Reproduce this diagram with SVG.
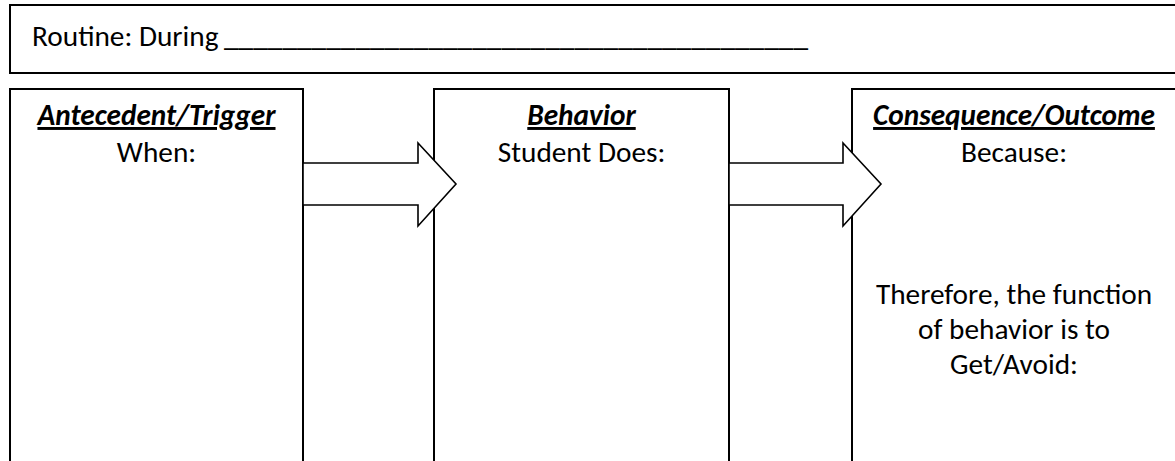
<svg xmlns="http://www.w3.org/2000/svg" width="1175" height="461" viewBox="0 0 1175 461">
<style>
.box{fill:#fff;stroke:#000;stroke-width:2}
.arrow{fill:#fff;stroke:#000;stroke-width:1.6;stroke-linejoin:miter}
.t{font-family:Carlito,Calibri,Lato,sans-serif;font-size:29.3px;fill:#000}
.h{font-weight:bold;font-style:italic;text-decoration:underline}
.c{text-anchor:middle}
</style>
<rect width="1175" height="461" fill="#fff"/>
<g id="routine">
<rect class="box" x="10" y="5" width="1180" height="68"/>
<text class="t" x="32" y="46">Routine: During</text>
<text class="t" x="224" y="46" textLength="584" lengthAdjust="spacingAndGlyphs">________________________________________</text>
</g>
<g id="antecedent">
<rect class="box" x="10" y="89" width="293" height="390"/>
<text class="t h c" x="156.5" y="125">Antecedent/Trigger</text>
<text class="t c" x="156.5" y="162">When:</text>
</g>
<g id="behavior">
<rect class="box" x="434" y="89" width="295" height="390"/>
<text class="t h c" x="581.5" y="125">Behavior</text>
<text class="t c" x="581.5" y="162">Student Does:</text>
</g>
<g id="consequence">
<rect class="box" x="852" y="89" width="324" height="390"/>
<text class="t h c" x="1014" y="125">Consequence/Outcome</text>
<text class="t c" x="1014" y="162">Because:</text>
<text class="t c" x="1014" y="304">Therefore, the function</text>
<text class="t c" x="1014" y="339">of behavior is to</text>
<text class="t c" x="1014" y="374">Get/Avoid:</text>
</g>
<g id="connectors">
<polygon class="arrow" points="303,163 418,163 418,143 456,184 418,226 418,205 303,205"/>
<polygon class="arrow" points="729,163 843,163 843,143 881,184 843,226 843,205 729,205"/>
</g>
</svg>
